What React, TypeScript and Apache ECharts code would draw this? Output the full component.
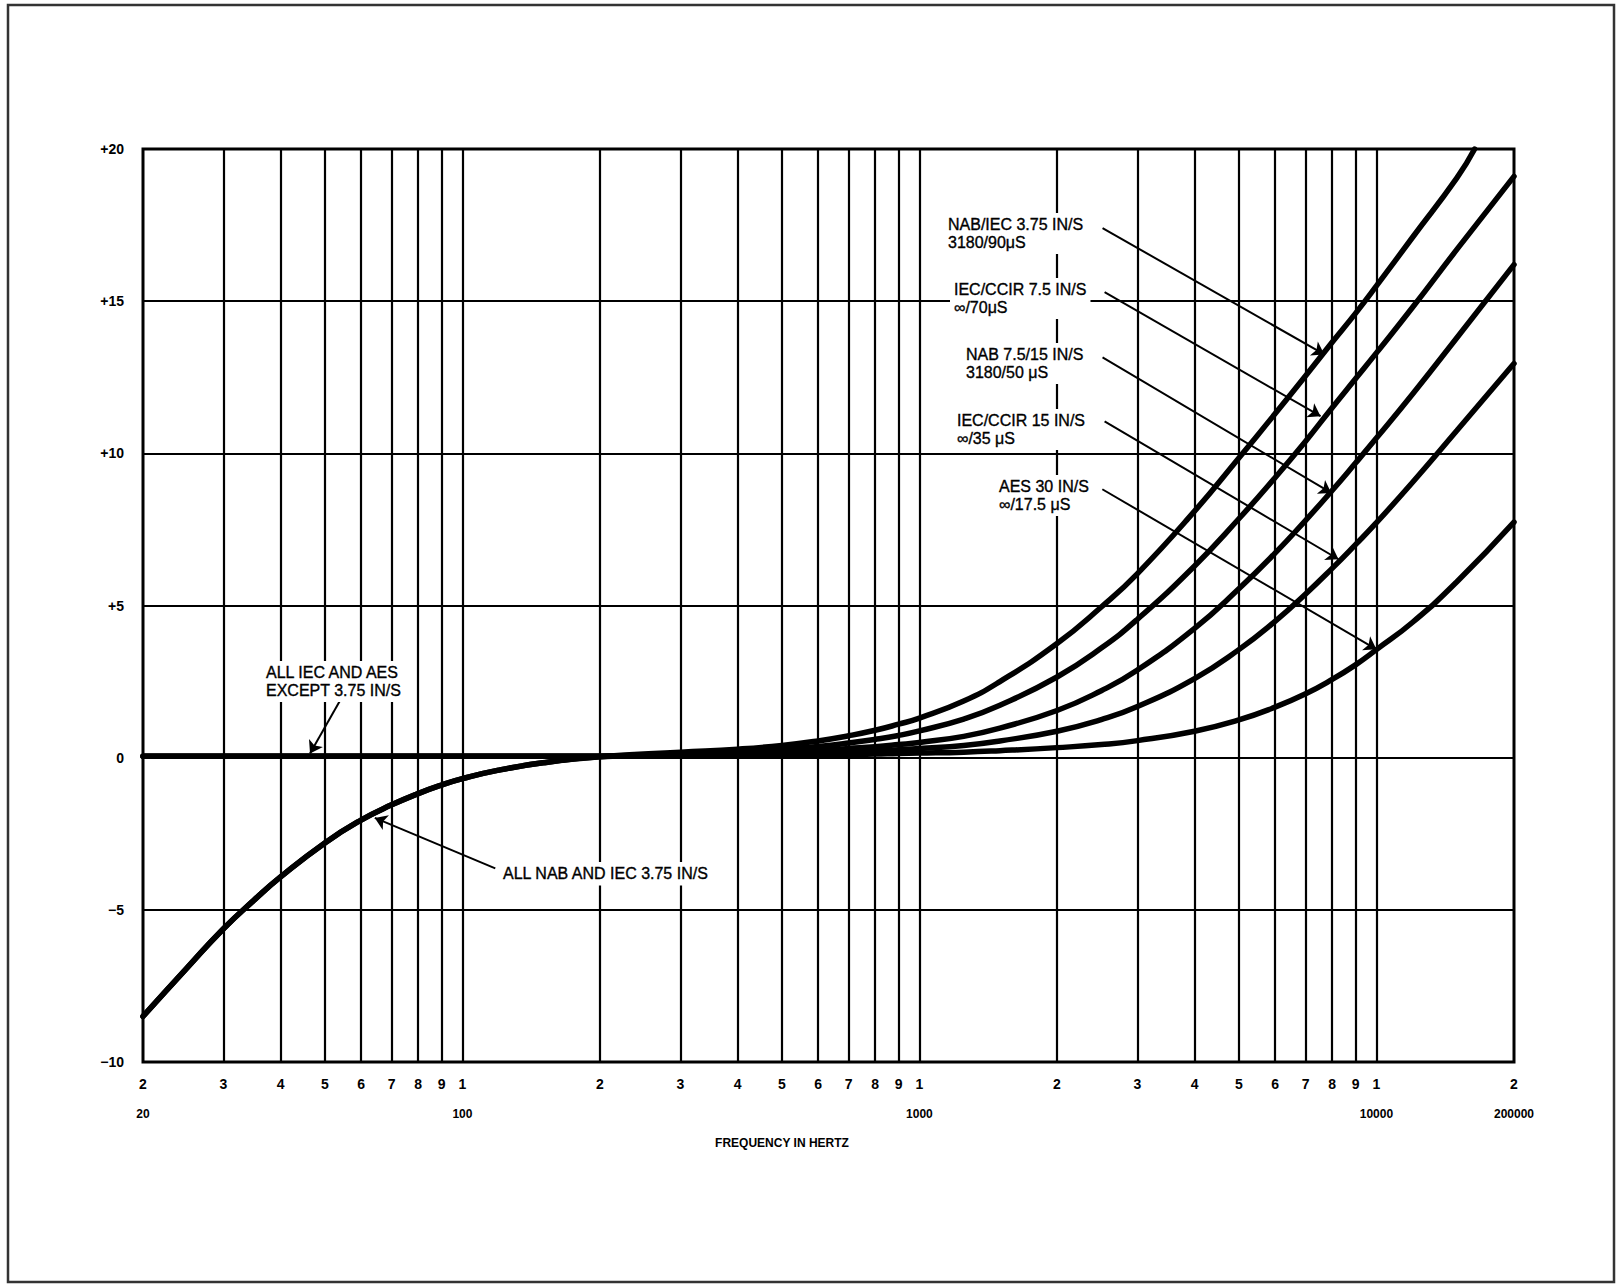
import React, { useEffect, useRef } from "react";
import * as echarts from "echarts";

// ---------- data ----------
const lfFreqs = [20, 25, 30, 35, 40, 50, 60, 70, 80, 90, 100, 120, 150, 200];
const nabLow = [-8.5, -6.9, -5.62, -4.68, -3.92, -2.8, -2.05, -1.55, -1.18, -0.9, -0.69, -0.41, -0.17, 0.03];
const flatLow = [0.05, 0.05, 0.05, 0.05, 0.05, 0.05, 0.05, 0.05, 0.05, 0.05, 0.05, 0.05, 0.05, 0.05];

const hfFreqs = [300, 400, 500, 600, 700, 800, 900, 1000, 1250, 1500, 2000, 2500, 3000, 4000, 5000, 6000, 7000, 8000, 9000, 10000, 12000, 15000, 20000];
const hf375Freqs = [300, 400, 500, 600, 700, 800, 900, 1000, 1250, 1500, 2000, 2500, 3000, 4000, 5000, 6000, 7000, 8000, 9000, 10000, 12000, 15000, 16400];

const nab375High = [0.18, 0.28, 0.4, 0.55, 0.72, 0.9, 1.1, 1.3, 1.86, 2.5, 3.75, 4.95, 6.05, 8.1, 9.85, 11.3, 12.55, 13.65, 14.6, 15.5, 17.1, 19.05, 20.0];
const iec75High = [0.14, 0.2, 0.28, 0.37, 0.48, 0.6, 0.73, 0.88, 1.27, 1.72, 2.65, 3.6, 4.55, 6.3, 7.85, 9.2, 10.4, 11.5, 12.45, 13.3, 14.8, 16.7, 19.1];
const nab15High = [0.1, 0.14, 0.18, 0.23, 0.3, 0.36, 0.43, 0.5, 0.7, 0.97, 1.55, 2.2, 2.88, 4.25, 5.55, 6.72, 7.8, 8.78, 9.68, 10.5, 11.95, 13.8, 16.2];
const iec15High = [0.08, 0.1, 0.12, 0.15, 0.18, 0.22, 0.26, 0.3, 0.4, 0.55, 0.87, 1.25, 1.68, 2.6, 3.55, 4.48, 5.38, 6.22, 7.0, 7.72, 9.05, 10.75, 12.95];
const aes30High = [0.07, 0.08, 0.09, 0.1, 0.11, 0.12, 0.14, 0.15, 0.18, 0.23, 0.33, 0.43, 0.56, 0.87, 1.24, 1.66, 2.1, 2.57, 3.05, 3.55, 4.45, 5.78, 7.74];

const gridFreqs = [30, 40, 50, 60, 70, 80, 90, 100, 200, 300, 400, 500, 600, 700, 800, 900, 1000, 2000, 3000, 4000, 5000, 6000, 7000, 8000, 9000, 10000];
const tickFreqs = [20, 30, 40, 50, 60, 70, 80, 90, 100, 200, 300, 400, 500, 600, 700, 800, 900, 1000, 2000, 3000, 4000, 5000, 6000, 7000, 8000, 9000, 10000, 20000];
const tickDigits = ["2", "3", "4", "5", "6", "7", "8", "9", "1", "2", "3", "4", "5", "6", "7", "8", "9", "1", "2", "3", "4", "5", "6", "7", "8", "9", "1", "2"];
const decadeFreqs = [20, 100, 1000, 10000, 20000];
const decadeLabels = ["20", "100", "1000", "10000", "200000"];

const yMin = -10;
const yMax = 20;
const yStep = 5;

const annotationTexts = [
  "NAB/IEC 3.75 IN/S\n3180/90μS",
  "IEC/CCIR 7.5 IN/S\n∞/70μS",
  "NAB 7.5/15 IN/S\n3180/50 μS",
  "IEC/CCIR 15 IN/S\n∞/35 μS",
  "AES 30 IN/S\n∞/17.5 μS",
  "ALL IEC AND AES\nEXCEPT 3.75 IN/S",
  "ALL NAB AND IEC 3.75 IN/S",
];
// arrows: [start [Hz, dB], end [Hz, dB]]
const arrowCoords = [
  [[2516, 17.4], [7690, 13.25]],
  [[2542, 15.3], [7546, 11.22]],
  [[2516, 13.15], [7965, 8.7]],
  [[2542, 11.05], [8260, 6.52]],
  [[2513, 8.82], [10000, 3.56]],
  [[54.1, 1.9], [46.4, 0.14]],
  [[118, -3.64], [64.3, -1.98]],
];
const xTitle = "FREQUENCY IN HERTZ";

// ---------- layout ----------
const FONT = '"Liberation Sans", Arial, Helvetica, sans-serif';
const labelBoxes = [
  { x: 944, y: 213 },
  { x: 950, y: 278 },
  { x: 962, y: 343 },
  { x: 953, y: 409 },
  { x: 995, y: 475 },
  { x: 262, y: 661 },
  { x: 499, y: 862 },
];

function pairs(fs: number[], vs: number[]) {
  return fs.map((f, i) => [f, vs[i]]);
}
function lookup(keys: number[], labels: string[], v: number) {
  for (let i = 0; i < keys.length; i++) {
    if (Math.abs(keys[i] - v) / keys[i] < 0.01) return labels[i];
  }
  return "";
}

const curveDefs = [
  { name: "NAB/IEC 3.75 IN/S", data: [...pairs(lfFreqs, nabLow), ...pairs(hf375Freqs, nab375High)] },
  { name: "IEC/CCIR 7.5 IN/S", data: [...pairs(lfFreqs, flatLow), ...pairs(hfFreqs, iec75High)] },
  { name: "NAB 7.5/15 IN/S", data: [...pairs(lfFreqs, nabLow), ...pairs(hfFreqs, nab15High)] },
  { name: "IEC/CCIR 15 IN/S", data: [...pairs(lfFreqs, flatLow), ...pairs(hfFreqs, iec15High)] },
  { name: "AES 30 IN/S", data: [...pairs(lfFreqs, flatLow), ...pairs(hfFreqs, aes30High)] },
];

function buildOption(): any {
  const curveSeries = curveDefs.map((c) => ({
    name: c.name,
    type: "line",
    xAxisIndex: 0,
    yAxisIndex: 0,
    data: c.data,
    showSymbol: false,
    symbol: "none",
    smooth: 0.5,
    clip: true,
    z: 3,
    lineStyle: { color: "#000", width: 5.5, cap: "round", join: "round" },
    silent: true,
  }));

  const gridSeries = {
    name: "grid",
    type: "line",
    xAxisIndex: 0,
    data: [],
    silent: true,
    markLine: {
      silent: true,
      symbol: ["none", "none"],
      animation: false,
      label: { show: false },
      lineStyle: { color: "#000", width: 2.2, type: "solid" },
      emphasis: { disabled: true },
      data: gridFreqs.map((f) => ({ xAxis: f })),
    },
  };

  const arrowSeries = {
    name: "arrows",
    type: "line",
    xAxisIndex: 0,
    data: [],
    silent: true,
    markLine: {
      silent: true,
      symbol: ["none", "arrow"],
      symbolSize: 12,
      animation: false,
      label: { show: false },
      lineStyle: { color: "#000", width: 2, type: "solid" },
      itemStyle: { color: "#000" },
      emphasis: { disabled: true },
      data: arrowCoords.map((a) => [{ coord: a[0] }, { coord: a[1] }]),
    },
  };

  const graphics: any[] = [
    {
      type: "rect",
      shape: { x: 8, y: 5, width: 1606, height: 1277 },
      style: { fill: "none", stroke: "#333", lineWidth: 2.5 },
      silent: true,
      z: 0,
    },
    {
      type: "text",
      x: 782,
      y: 1143,
      z: 100,
      style: {
        text: xTitle,
        fill: "#000",
        font: `bold 12px ${FONT}`,
        align: "center",
        verticalAlign: "middle",
        textAlign: "center",
        textVerticalAlign: "middle",
      },
    },
  ];
  annotationTexts.forEach((t, i) => {
    graphics.push({
      type: "text",
      x: labelBoxes[i].x,
      y: labelBoxes[i].y,
      z: 100,
      silent: true,
      style: {
        text: t,
        fill: "#000",
        stroke: "#000",
        lineWidth: 0.35,
        font: `16px ${FONT}`,
        lineHeight: 17.5,
        backgroundColor: "#fff",
        padding: [3, 4],
        align: "left",
        verticalAlign: "top",
        textAlign: "left",
        textVerticalAlign: "top",
      },
    });
  });

  return {
    animation: false,
    backgroundColor: "#fff",
    grid: {
      left: 143,
      right: 106,
      top: 149,
      bottom: 223,
      show: true,
      borderColor: "#000",
      borderWidth: 3,
      backgroundColor: "transparent",
      containLabel: false,
    },
    xAxis: [
      {
        type: "log",
        logBase: 10,
        min: 20,
        max: 20000,
        position: "bottom",
        axisLine: { show: false },
        axisTick: { show: false },
        splitLine: { show: false },
        minorTick: { show: false },
        minorSplitLine: { show: false },
        axisLabel: {
          customValues: tickFreqs,
          interval: 0,
          hideOverlap: false,
          showMinLabel: true,
          showMaxLabel: true,
          margin: 15,
          color: "#000",
          fontSize: 14,
          fontWeight: "bold",
          fontFamily: FONT,
          formatter: (v: number) => lookup(tickFreqs, tickDigits, v),
        },
      },
      {
        type: "log",
        logBase: 10,
        min: 20,
        max: 20000,
        position: "bottom",
        offset: 0,
        axisLine: { show: false },
        axisTick: { show: false },
        splitLine: { show: false },
        minorTick: { show: false },
        axisLabel: {
          customValues: decadeFreqs,
          interval: 0,
          hideOverlap: false,
          showMinLabel: true,
          showMaxLabel: true,
          margin: 46,
          color: "#000",
          fontSize: 12,
          fontWeight: "bold",
          fontFamily: FONT,
          formatter: (v: number) => lookup(decadeFreqs, decadeLabels, v),
        },
      },
    ],
    yAxis: {
      type: "value",
      min: yMin,
      max: yMax,
      interval: yStep,
      axisLine: { show: false },
      axisTick: { show: false },
      splitLine: { show: true, lineStyle: { color: "#000", width: 2.2 } },
      axisLabel: {
        margin: 19,
        color: "#000",
        fontSize: 14,
        fontWeight: "bold",
        fontFamily: FONT,
        formatter: (v: number) => (v > 0 ? "+" + v : v < 0 ? "\u2212" + -v : "0"),
      },
    },
    graphic: graphics,
    series: [gridSeries, ...curveSeries, arrowSeries],
  };
}

export default function App() {
  const ref = useRef<HTMLDivElement>(null);
  useEffect(() => {
    document.body.style.margin = "0";
    const chart = echarts.init(ref.current as HTMLDivElement, null, { renderer: "svg" });
    chart.setOption(buildOption());
    return () => {
      chart.dispose();
    };
  }, []);
  return <div ref={ref} style={{ width: 1620, height: 1285, background: "#fff" }} />;
}
